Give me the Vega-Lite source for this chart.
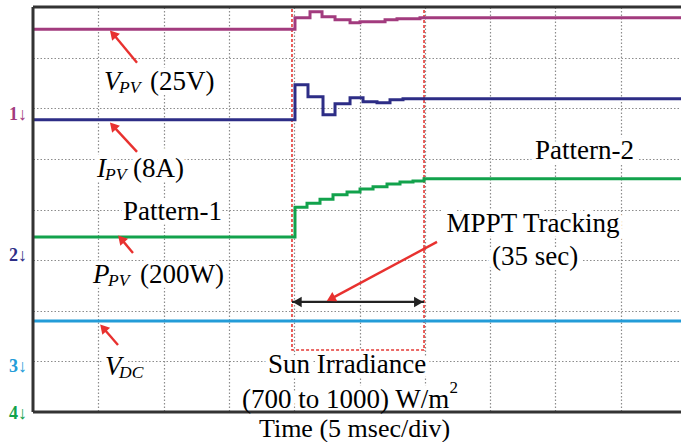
{
  "$schema": "https://vega.github.io/schema/vega-lite/v6.json",
  "width": 648,
  "height": 405,
  "autosize": "none",
  "padding": {"left": 33, "top": 7, "right": 0, "bottom": 30},
  "background": "white",
  "config": {"view": {"stroke": null}, "font": "Liberation Serif"},
  "datasets": {
    "traces": [
      {"x": 0, "y": 7.559, "s": "V_PV"}, {"x": 4.012, "y": 7.787, "s": "V_PV"}, {"x": 4.242, "y": 7.905, "s": "V_PV"},
      {"x": 4.426, "y": 7.806, "s": "V_PV"}, {"x": 4.625, "y": 7.747, "s": "V_PV"}, {"x": 4.855, "y": 7.688, "s": "V_PV"},
      {"x": 5.008, "y": 7.708, "s": "V_PV"}, {"x": 5.391, "y": 7.747, "s": "V_PV"}, {"x": 5.574, "y": 7.767, "s": "V_PV"},
      {"x": 5.926, "y": 7.787, "s": "V_PV"}, {"x": 9.923, "y": 7.787, "s": "V_PV"},
      {"x": 0, "y": 5.771, "s": "I_PV"}, {"x": 4.012, "y": 6.462, "s": "I_PV"}, {"x": 4.211, "y": 6.225, "s": "I_PV"},
      {"x": 4.441, "y": 5.870, "s": "I_PV"}, {"x": 4.625, "y": 6.087, "s": "I_PV"}, {"x": 4.855, "y": 6.206, "s": "I_PV"},
      {"x": 5.054, "y": 6.126, "s": "I_PV"}, {"x": 5.268, "y": 6.107, "s": "I_PV"}, {"x": 5.467, "y": 6.166, "s": "I_PV"},
      {"x": 5.666, "y": 6.186, "s": "I_PV"}, {"x": 9.923, "y": 6.186, "s": "I_PV"},
      {"x": 0, "y": 3.458, "s": "P_PV"}, {"x": 4.012, "y": 4.045, "s": "P_PV"}, {"x": 4.196, "y": 4.123, "s": "P_PV"},
      {"x": 4.395, "y": 4.202, "s": "P_PV"}, {"x": 4.594, "y": 4.289, "s": "P_PV"}, {"x": 4.809, "y": 4.348, "s": "P_PV"},
      {"x": 5.008, "y": 4.407, "s": "P_PV"}, {"x": 5.207, "y": 4.447, "s": "P_PV"}, {"x": 5.421, "y": 4.506, "s": "P_PV"},
      {"x": 5.620, "y": 4.545, "s": "P_PV"}, {"x": 5.819, "y": 4.565, "s": "P_PV"}, {"x": 5.988, "y": 4.605, "s": "P_PV"},
      {"x": 9.923, "y": 4.605, "s": "P_PV"},
      {"x": 0, "y": 1.798, "s": "V_DC"}, {"x": 9.923, "y": 1.798, "s": "V_DC"}
    ],
    "texts": [
      {"x": 1.087, "y": 6.364, "txt": "V", "kind": "symbol"},
      {"x": 0.980, "y": 4.644, "txt": "I", "kind": "symbol"},
      {"x": 0.919, "y": 2.549, "txt": "P", "kind": "symbol"},
      {"x": 1.103, "y": 0.731, "txt": "V", "kind": "symbol"},
      {"x": 1.317, "y": 6.304, "txt": "PV", "kind": "subscript"},
      {"x": 1.103, "y": 4.585, "txt": "PV", "kind": "subscript"},
      {"x": 1.149, "y": 2.490, "txt": "PV", "kind": "subscript"},
      {"x": 1.317, "y": 0.672, "txt": "DC", "kind": "subscript"},
      {"x": 1.792, "y": 6.364, "txt": "(25V)", "kind": "label"},
      {"x": 1.531, "y": 4.644, "txt": "(8A)", "kind": "label"},
      {"x": 1.639, "y": 2.549, "txt": "(200W)", "kind": "label"},
      {"x": 1.378, "y": 3.794, "txt": "Pattern-1", "kind": "label"},
      {"x": 7.688, "y": 5.0, "txt": "Pattern-2", "kind": "label"},
      {"x": 3.201, "y": 0.079, "txt": "(700 to 1000) W/m", "kind": "label"},
      {"x": 7.657, "y": 3.557, "txt": "MPPT Tracking", "kind": "centered"},
      {"x": 7.688, "y": 2.905, "txt": "(35 sec)", "kind": "centered"},
      {"x": 4.809, "y": 0.771, "txt": "Sun Irradiance", "kind": "centered"},
      {"x": 6.378, "y": 0.375, "txt": "2", "kind": "superscript"}
    ],
    "markers": [
      {"x": -0.367, "y": 5.771, "txt": "1↓", "s": "V_PV"},
      {"x": -0.367, "y": 2.984, "txt": "2↓", "s": "I_PV"},
      {"x": -0.367, "y": 0.791, "txt": "3↓", "s": "V_DC"},
      {"x": -0.367, "y": -0.138, "txt": "4↓", "s": "P_PV"}
    ],
    "frame": [
      {"x": 0, "x2": 9.923, "y": 8, "y2": 8},
      {"x": 0, "x2": 9.923, "y": 0, "y2": 0},
      {"x": 0, "x2": 0, "y": 0, "y2": 8}
    ],
    "arrows": [
      {"x": 1.593, "y": 6.897, "x2": 1.225, "y2": 7.470, "kind": "label"},
      {"x": 1.593, "y": 5.138, "x2": 1.225, "y2": 5.652, "kind": "label"},
      {"x": 1.531, "y": 3.142, "x2": 1.350, "y2": 3.420, "kind": "label"},
      {"x": 1.302, "y": 1.324, "x2": 1.075, "y2": 1.660, "kind": "label"},
      {"x": 6.187, "y": 3.360, "x2": 4.560, "y2": 2.235, "kind": "mppt"}
    ]
  },
  "encoding": {
    "x": {
      "field": "x", "type": "quantitative",
      "scale": {"domain": [0, 9.923], "nice": false, "zero": false},
      "axis": {
        "values": [1, 2, 3, 4, 5, 6, 7, 8, 9], "labels": false, "ticks": false,
        "domain": false,
        "grid": true, "gridColor": "#8c8c8c", "gridDash": [1.5, 2], "gridWidth": 1.2,
        "title": "Time (5 msec/div)", "titleFont": "Liberation Serif", "titleFontSize": 26,
        "titleFontWeight": "normal", "titleColor": "#000000", "titleBaseline": "alphabetic",
        "titleY": 24, "titleX": 321
      }
    },
    "y": {
      "field": "y", "type": "quantitative",
      "scale": {"domain": [0, 8], "nice": false, "zero": false},
      "axis": {
        "values": [1, 2, 3, 4, 5, 6, 7], "labels": false, "ticks": false,
        "domain": false,
        "grid": true, "gridColor": "#8c8c8c", "gridDash": [1.5, 2], "gridWidth": 1.2,
        "title": null
      }
    }
  },
  "layer": [
    {
      "data": {"name": "texts"},
      "transform": [{"filter": "datum.kind === 'symbol'"}],
      "mark": {"type": "text", "font": "Liberation Serif", "fontStyle": "italic", "fontSize": 27, "align": "left", "baseline": "alphabetic", "fill": "white", "stroke": "white", "strokeWidth": 9},
      "encoding": {"text": {"field": "txt"}}
    },
    {
      "data": {"name": "texts"},
      "transform": [{"filter": "datum.kind === 'subscript'"}],
      "mark": {"type": "text", "font": "Liberation Serif", "fontStyle": "italic", "fontSize": 17.5, "align": "left", "baseline": "alphabetic", "fill": "white", "stroke": "white", "strokeWidth": 9},
      "encoding": {"text": {"field": "txt"}}
    },
    {
      "data": {"name": "texts"},
      "transform": [{"filter": "datum.kind === 'label'"}],
      "mark": {"type": "text", "font": "Liberation Serif", "fontSize": 27, "align": "left", "baseline": "alphabetic", "fill": "white", "stroke": "white", "strokeWidth": 9},
      "encoding": {"text": {"field": "txt"}}
    },
    {
      "data": {"name": "texts"},
      "transform": [{"filter": "datum.kind === 'centered'"}],
      "mark": {"type": "text", "font": "Liberation Serif", "fontSize": 27, "align": "center", "baseline": "alphabetic", "fill": "white", "stroke": "white", "strokeWidth": 9},
      "encoding": {"text": {"field": "txt"}}
    },
    {
      "data": {"values": [{"x": 3.966, "x2": 5.988, "y": 1.225, "y2": 8}]},
      "mark": {"type": "rect", "fill": null, "fillOpacity": 0, "stroke": "#e53935", "strokeWidth": 1.6, "strokeDash": [3, 2]},
      "encoding": {"x2": {"field": "x2"}, "y2": {"field": "y2"}}
    },
    {
      "data": {"name": "traces"},
      "mark": {"type": "line", "interpolate": "step-after"},
      "encoding": {
        "color": {"field": "s", "type": "nominal", "scale": {"domain": ["V_PV", "I_PV", "P_PV", "V_DC"], "range": ["#a23b7e", "#2d2d86", "#12a24c", "#239cd8"]}, "legend": null},
        "strokeWidth": {"field": "s", "type": "nominal", "scale": {"domain": ["V_PV", "I_PV", "P_PV", "V_DC"], "range": [3, 3, 4, 5]}, "legend": null}
      }
    },
    {
      "data": {"name": "frame"},
      "mark": {"type": "rule", "color": "#333333", "strokeWidth": 3},
      "encoding": {"x2": {"field": "x2"}, "y2": {"field": "y2"}}
    },
    {
      "data": {"values": [{"x": 3.966, "x2": 5.988, "y": 2.174}]},
      "mark": {"type": "rule", "color": "#222222", "strokeWidth": 2.2},
      "encoding": {"x2": {"field": "x2"}}
    },
    {
      "data": {"values": [{"x": 4.045, "y": 2.174, "dir": "left"}, {"x": 5.905, "y": 2.174, "dir": "right"}]},
      "mark": {"type": "point", "filled": true, "size": 110, "color": "#222222", "opacity": 1},
      "encoding": {"shape": {"field": "dir", "type": "nominal", "scale": {"domain": ["left", "right"], "range": ["triangle-left", "triangle-right"]}, "legend": null}}
    },
    {
      "data": {"name": "arrows"},
      "mark": {"type": "rule", "color": "#e8312f", "strokeWidth": 2.4},
      "encoding": {"x2": {"field": "x2"}, "y2": {"field": "y2"}}
    },
    {
      "data": {"name": "arrows"},
      "transform": [{"filter": "datum.kind === 'label'"}],
      "mark": {"type": "point", "shape": "triangle-up", "filled": true, "size": 110, "color": "#e8312f", "opacity": 1, "angle": 318},
      "encoding": {"x": {"field": "x2", "type": "quantitative"}, "y": {"field": "y2", "type": "quantitative"}}
    },
    {
      "data": {"name": "arrows"},
      "transform": [{"filter": "datum.kind === 'mppt'"}],
      "mark": {"type": "point", "shape": "triangle-up", "filled": true, "size": 110, "color": "#e8312f", "opacity": 1, "angle": 242},
      "encoding": {"x": {"field": "x2", "type": "quantitative"}, "y": {"field": "y2", "type": "quantitative"}}
    },
    {
      "data": {"name": "texts"},
      "transform": [{"filter": "datum.kind === 'symbol'"}],
      "mark": {"type": "text", "font": "Liberation Serif", "fontStyle": "italic", "fontSize": 27, "align": "left", "baseline": "alphabetic", "color": "black"},
      "encoding": {"text": {"field": "txt"}}
    },
    {
      "data": {"name": "texts"},
      "transform": [{"filter": "datum.kind === 'subscript'"}],
      "mark": {"type": "text", "font": "Liberation Serif", "fontStyle": "italic", "fontSize": 17.5, "align": "left", "baseline": "alphabetic", "color": "black"},
      "encoding": {"text": {"field": "txt"}}
    },
    {
      "data": {"name": "texts"},
      "transform": [{"filter": "datum.kind === 'label'"}],
      "mark": {"type": "text", "font": "Liberation Serif", "fontSize": 27, "align": "left", "baseline": "alphabetic", "color": "black"},
      "encoding": {"text": {"field": "txt"}}
    },
    {
      "data": {"name": "texts"},
      "transform": [{"filter": "datum.kind === 'centered'"}],
      "mark": {"type": "text", "font": "Liberation Serif", "fontSize": 27, "align": "center", "baseline": "alphabetic", "color": "black"},
      "encoding": {"text": {"field": "txt"}}
    },
    {
      "data": {"name": "texts"},
      "transform": [{"filter": "datum.kind === 'superscript'"}],
      "mark": {"type": "text", "font": "Liberation Serif", "fontSize": 17, "align": "left", "baseline": "alphabetic", "color": "black"},
      "encoding": {"text": {"field": "txt"}}
    },
    {
      "data": {"name": "markers"},
      "mark": {"type": "text", "font": "Liberation Serif", "fontSize": 18, "fontWeight": "bold", "align": "left", "baseline": "alphabetic"},
      "encoding": {
        "text": {"field": "txt"},
        "color": {"field": "s", "type": "nominal", "legend": null}
      }
    }
  ]
}
